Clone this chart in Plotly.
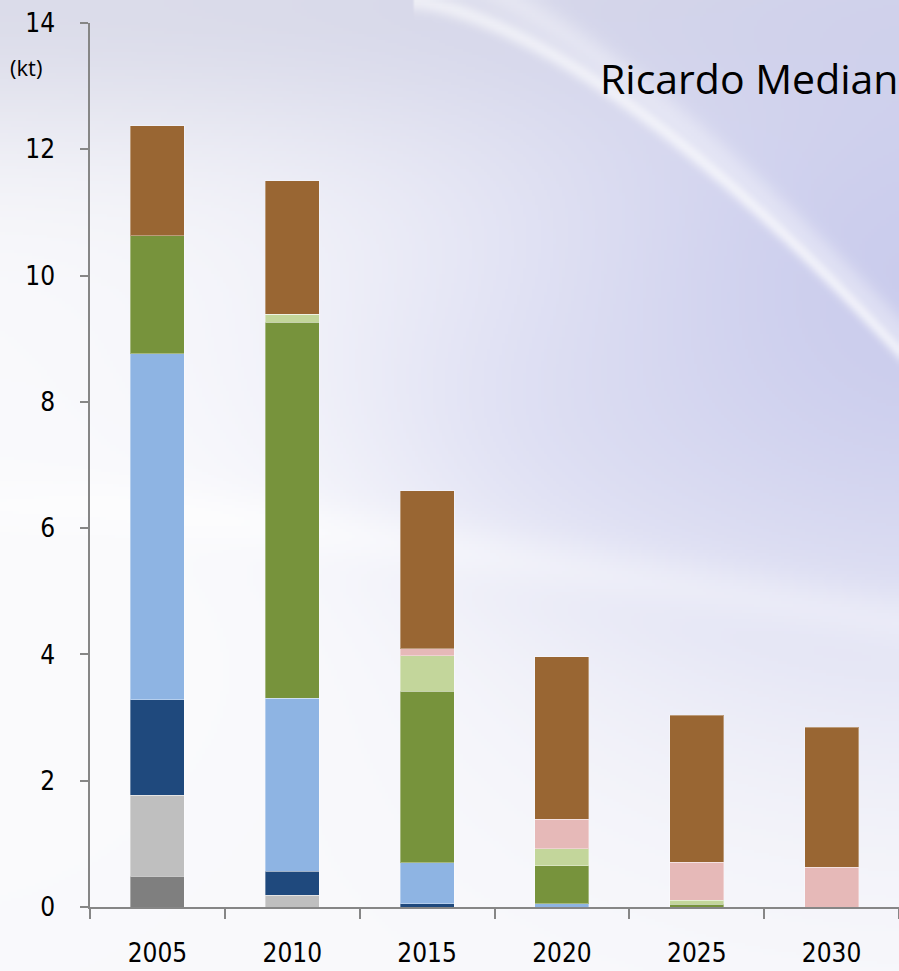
import base64, struct, zlib
import numpy as np
import plotly.graph_objects as go

# ---------------- data ----------------
years = ["2005", "2010", "2015", "2020", "2025", "2030"]
dark_grey = [0.49, 0, 0, 0, 0, 0]
light_grey = [1.28, 0.19, 0, 0, 0, 0]
navy = [1.51, 0.38, 0.05, 0, 0, 0]
light_blue = [5.48, 2.74, 0.65, 0.05, 0, 0]
green = [1.87, 5.95, 2.72, 0.60, 0.04, 0]
light_green = [0, 0.13, 0.56, 0.27, 0.07, 0]
pink = [0, 0, 0.11, 0.47, 0.60, 0.63]
brown = [1.74, 2.11, 2.50, 2.57, 2.33, 2.22]
y_ticks = [0, 2, 4, 6, 8, 10, 12, 14]

series = [
    ("Series 1", dark_grey, "#7f7f7f"),
    ("Series 2", light_grey, "#bfbfbf"),
    ("Series 3", navy, "#1f497d"),
    ("Series 4", light_blue, "#8eb4e3"),
    ("Series 5", green, "#77933c"),
    ("Series 6", light_green, "#c3d69b"),
    ("Series 7", pink, "#e6b9b8"),
    ("Series 8", brown, "#996633"),
]

# ---------------- background image (decorative gradient) ----------------
W, H = 899, 971
w, h = 300, 324
u = np.linspace(0, 1, w)[None, :]
v = np.linspace(0, 1, h)[:, None]
white = np.array([250, 250, 252], float)
lav = np.array([200, 202, 236], float)
grey = np.array([210, 211, 228], float)
t1 = 0.95 * np.exp(-((u - 1.05) / 0.55) ** 2 - ((v - 0.3) / 0.42) ** 2)
t2 = 0.75 * np.exp(-(v / 0.16) ** 2)
t4 = 0.35 * np.exp(-((u - 0.55) / 0.3) ** 2 - ((v - 0.45) / 0.15) ** 2)
img = white[None, None, :] * np.ones((h, w, 1))
img = img * (1 - t2[..., None]) + grey * t2[..., None]
img = img * (1 - t4[..., None]) + lav * t4[..., None]
img = img * (1 - t1[..., None]) + lav * t1[..., None]
# soft white streaks
uc = np.clip((u - 0.46) / 0.54, 0, None)
vc1 = 0.36 * uc ** 1.5
s1 = np.exp(-((v - vc1) / 0.010) ** 2) * (u > 0.46) * 0.55
vc2 = 0.38 * uc ** 1.4 - 0.04
s2 = np.exp(-((v - vc2) / 0.02) ** 2) * (u > 0.5) * 0.35
uc3 = np.clip((u - 0.1) / 0.9, 0, None)
vc3 = 0.52 + 0.12 * uc3 ** 1.2
s3 = np.exp(-((v - vc3) / 0.03) ** 2) * 0.3
s5 = 0.5 * np.exp(-((u - 0.25) / 0.3) ** 2 - ((v - 0.55) / 0.25) ** 2)
s = np.clip(s1 + s2 + s3 + s5, 0, 1)
img = img * (1 - s[..., None]) + np.array([255, 255, 255], float) * s[..., None]
img = np.clip(img, 0, 255).astype(np.uint8)


def to_png(a):
    hh, ww, _ = a.shape
    raw = b"".join(b"\x00" + a[i].tobytes() for i in range(hh))

    def chunk(tag, data):
        c = struct.pack(">I", len(data)) + tag + data
        return c + struct.pack(">I", zlib.crc32(tag + data) & 0xFFFFFFFF)

    return (b"\x89PNG\r\n\x1a\n" + chunk(b"IHDR", struct.pack(">IIBBBBB", ww, hh, 8, 2, 0, 0, 0))
            + chunk(b"IDAT", zlib.compress(raw, 9)) + chunk(b"IEND", b""))


bg_uri = "data:image/png;base64," + base64.b64encode(to_png(img)).decode()

# ---------------- figure ----------------
L, R, T, B = 90, 0, 23, 64
pw, ph = W - L - R, H - T - B

fig = go.Figure()
for name, vals, col in series:
    fig.add_trace(go.Bar(
        x=years, y=vals, name=name,
        marker=dict(color=col, line=dict(color="rgba(255,255,255,0.35)", width=1)),
    ))

tick_font = dict(family="DejaVu Sans Condensed, Liberation Sans, sans-serif", size=26, color="#000000")

fig.update_layout(
    width=W, height=H,
    margin=dict(l=L, r=R, t=T, b=B, pad=0),
    barmode="stack", bargap=0.6,
    showlegend=False,
    paper_bgcolor="#ffffff",
    plot_bgcolor="rgba(0,0,0,0)",
    images=[dict(
        source=bg_uri, xref="paper", yref="paper",
        x=-L / pw, y=1 + T / ph, sizex=W / pw, sizey=H / ph,
        xanchor="left", yanchor="top", sizing="stretch", layer="below",
    )],
    xaxis=dict(
        type="category", tickson="boundaries", ticks="outside", ticklen=10,
        tickcolor="#868686", tickwidth=1.5,
        showline=True, linecolor="#868686", linewidth=1.5,
        showgrid=False, tickfont=tick_font, ticklabelstandoff=22,
    ),
    yaxis=dict(
        range=[0, 14], tickvals=y_ticks, ticks="outside", ticklen=8,
        tickcolor="#868686", tickwidth=1.5,
        showline=True, linecolor="#868686", linewidth=1.5,
        showgrid=False, zeroline=False, tickfont=tick_font, ticklabelstandoff=20,
    ),
    annotations=[
        dict(text="Ricardo Median", xref="paper", yref="paper",
             x=(598 - L) / pw, y=(H - B - 78) / ph, xanchor="left", yanchor="middle",
             showarrow=False, font=dict(family="Open Sans, sans-serif", size=41, color="#000000")),
        dict(text="(kt)", xref="paper", yref="paper",
             x=(26 - L) / pw, y=(H - B - 67) / ph, xanchor="center", yanchor="middle",
             showarrow=False, font=dict(family="Open Sans, sans-serif", size=22, color="#000000")),
    ],
)

fig.write_html("out.html")
